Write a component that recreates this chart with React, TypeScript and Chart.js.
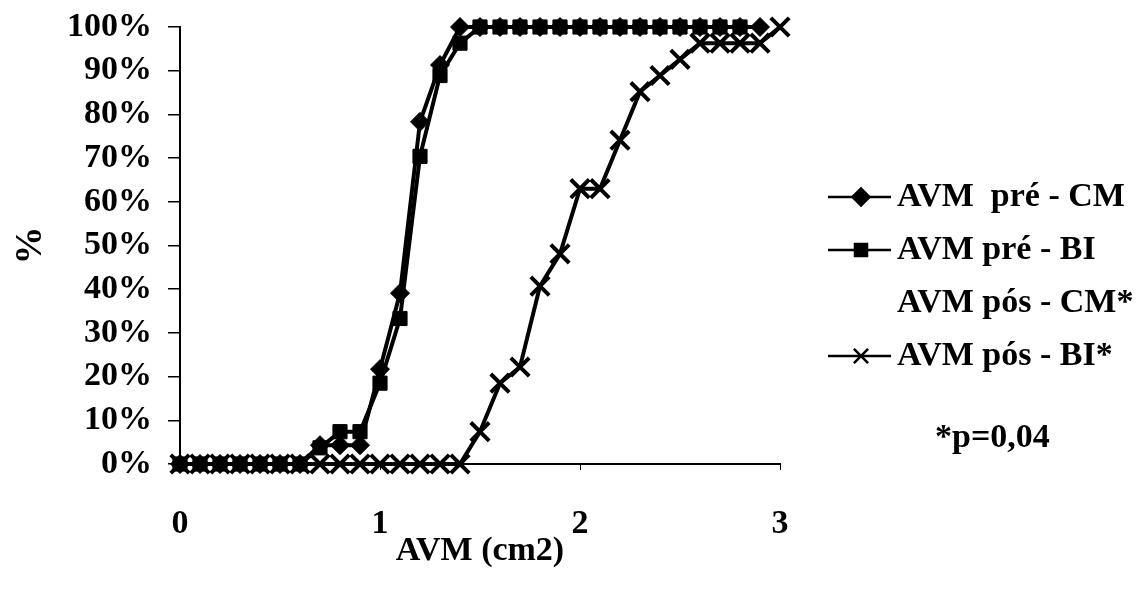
import React, { useEffect, useRef } from 'react';
import { Chart, registerables } from 'chart.js';
import { drawPoint } from 'chart.js/helpers';

Chart.register(...registerables);

// AVM values (cm2) on the x axis
const avmValues = [
  0, 0.1, 0.2, 0.3, 0.4, 0.5, 0.6, 0.7, 0.8, 0.9,
  1.0, 1.1, 1.2, 1.3, 1.4, 1.5, 1.6, 1.7, 1.8, 1.9,
  2.0, 2.1, 2.2, 2.3, 2.4, 2.5, 2.6, 2.7, 2.8, 2.9, 3.0,
];

// cumulative % per series
const preCM = [
  0, 0, 0, 0, 0, 0, 0, 4.3, 4.3, 4.3,
  21.7, 39.1, 78.3, 91.3, 100, 100, 100, 100, 100, 100,
  100, 100, 100, 100, 100, 100, 100, 100, 100, 100,
];
const preBI = [
  0, 0, 0, 0, 0, 0, 0, 3.7, 7.4, 7.4,
  18.5, 33.3, 70.4, 88.9, 96.3, 100, 100, 100, 100, 100,
  100, 100, 100, 100, 100, 100, 100, 100, 100,
];
const posCM: number[] = [];
const posBI = [
  0, 0, 0, 0, 0, 0, 0, 0, 0, 0,
  0, 0, 0, 0, 0, 7.4, 18.5, 22.2, 40.7, 48.1,
  63.0, 63.0, 74.1, 85.2, 88.9, 92.6, 96.3, 96.3, 96.3, 96.3, 100,
];

const seriesLabels = ['AVM  pré - CM', 'AVM pré - BI', 'AVM pós - CM*', 'AVM pós - BI*'];
const xTicks = [0, 1, 2, 3];
const yTicks = [0, 10, 20, 30, 40, 50, 60, 70, 80, 90, 100];
const xTitle = 'AVM (cm2)';
const yTitle = '%';
const noteText = '*p=0,04';

const FAMILY = "'Liberation Serif', 'Times New Roman', serif";
const BIG = { family: FAMILY, size: 34, weight: 'bold' as const };

const toPoints = (vals: number[]) => vals.map((y, i) => ({ x: avmValues[i], y }));

const sideLegend = {
  id: 'sideLegend',
  afterDraw(chart: any) {
    const { ctx, chartArea } = chart;
    ctx.save();
    ctx.font = `bold 34px ${FAMILY}`;
    ctx.textBaseline = 'middle';
    ctx.textAlign = 'left';
    ctx.fillStyle = '#000';
    ctx.strokeStyle = '#000';
    const lineX = chartArea.right + 48;
    const textX = chartArea.right + 117;
    const top = chartArea.top + 170;
    chart.data.datasets.forEach((ds: any, i: number) => {
      const y = top + i * 53;
      if (ds.borderColor !== 'transparent') {
        ctx.lineWidth = 2.5;
        ctx.beginPath();
        ctx.moveTo(lineX, y);
        ctx.lineTo(lineX + 63, y);
        ctx.stroke();
        ctx.fillStyle = '#000';
        ctx.strokeStyle = '#000';
        drawPoint(ctx, { pointStyle: ds.pointStyle, radius: ds.legendRadius, borderWidth: ds.legendBorder, rotation: 0 }, lineX + 33, y);
      }
      ctx.fillStyle = '#000';
      ctx.fillText(ds.label, textX, y);
    });
    ctx.fillText(noteText, chartArea.right + 155, top + 4 * 53 + 29);
    ctx.restore();
  },
};

export default function App() {
  const ref = useRef<HTMLCanvasElement | null>(null);
  useEffect(() => {
    if (!ref.current) return;
    const base = {
      borderColor: '#000',
      backgroundColor: '#000',
      pointBorderColor: '#000',
      pointBackgroundColor: '#000',
      borderWidth: 4,
      clip: false as const,
      tension: 0,
    };
    const chart = new Chart(ref.current, {
      type: 'line',
      data: {
        datasets: [
          { ...base, label: seriesLabels[0], data: toPoints(preCM), pointStyle: 'rectRot', pointRadius: 9.5, pointBorderWidth: 1, legendRadius: 8.5, legendBorder: 1 } as any,
          { ...base, label: seriesLabels[1], data: toPoints(preBI), pointStyle: 'rect', pointRadius: 10, pointBorderWidth: 1, legendRadius: 8.5, legendBorder: 1 } as any,
          { label: seriesLabels[2], data: toPoints(posCM), borderColor: 'transparent', backgroundColor: 'transparent', pointRadius: 0, borderWidth: 0 } as any,
          { ...base, label: seriesLabels[3], data: toPoints(posBI), pointStyle: 'crossRot', pointRadius: 13, pointBorderWidth: 4, legendRadius: 10, legendBorder: 3.5 } as any,
        ],
      },
      options: {
        animation: false,
        responsive: false,
        devicePixelRatio: 1,
        layout: { padding: { top: 27, right: 366, bottom: 0, left: 0 } },
        plugins: { legend: { display: false }, tooltip: { enabled: false } },
        scales: {
          x: {
            type: 'linear',
            min: 0,
            max: 3,
            afterBuildTicks: (s: any) => { s.ticks = xTicks.map((v) => ({ value: v })); },
            ticks: { color: '#000', font: BIG, padding: 34, maxRotation: 0, autoSkip: false },
            grid: { display: true, drawOnChartArea: false, drawTicks: true, tickLength: 6, color: '#000', lineWidth: 1 },
            border: { display: true, color: '#000', width: 2 },
            title: { display: true, text: xTitle, color: '#000', font: BIG, padding: { top: 0, bottom: 18 } },
            afterFit: (s: any) => { s.height = 126; s.paddingLeft = 0; s.paddingRight = 0; },
          },
          y: {
            min: 0,
            max: 100,
            afterBuildTicks: (s: any) => { s.ticks = yTicks.map((v) => ({ value: v })); },
            ticks: { color: '#000', font: BIG, padding: 16, callback: (v: any) => `${v}%`, autoSkip: false },
            grid: { display: true, drawOnChartArea: false, drawTicks: true, tickLength: 12, color: '#000', lineWidth: 1.5 },
            border: { display: true, color: '#000', width: 2 },
            title: { display: true, text: yTitle, color: '#000', font: { family: FAMILY, size: 38, weight: 'bold' }, padding: { top: 8, bottom: 0 } },
            afterFit: (s: any) => { s.width = 180; s.paddingTop = 0; s.paddingBottom = 0; },
          },
        },
      } as any,
      plugins: [sideLegend],
    });
    return () => chart.destroy();
  }, []);
  return (
    <div style={{ position: 'absolute', left: 0, top: 0, width: 1146, height: 590, background: '#fff' }}>
      <canvas ref={ref} width={1146} height={590} style={{ width: 1146, height: 590, display: 'block' }} />
    </div>
  );
}
